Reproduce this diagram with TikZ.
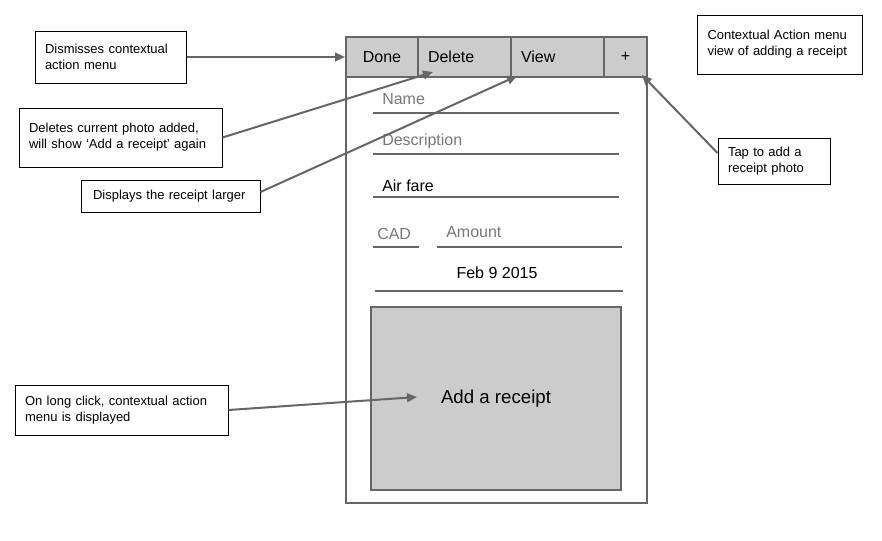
\documentclass[tikz,border=0pt]{standalone}
\usepackage{fontspec}
\setmainfont{Liberation Sans}
\usetikzlibrary{arrows.meta}
\definecolor{frameg}{HTML}{666666}
\definecolor{fillg}{HTML}{CCCCCC}
\definecolor{hintg}{HTML}{777777}
\tikzset{
  callout/.style={draw=black, line width=0.75pt, fill=white, align=left,
    font=\fontsize{9.75}{12}\selectfont, inner xsep=7.5pt, inner ysep=0pt},
  cell/.style={draw=frameg, line width=1.5pt, fill=fillg, minimum height=30pt,
    inner sep=0pt, font=\fontsize{12}{14}\selectfont},
  fieldline/.style={draw=frameg, line width=1.5pt},
  hint/.style={text=hintg, inner sep=0pt, anchor=base west, font=\fontsize{12}{14}\selectfont},
  entry/.style={text=black, inner sep=0pt, anchor=base west, font=\fontsize{12}{14}\selectfont},
  arr/.style={draw=frameg, line width=1.5pt, -{Triangle[length=7.5pt,width=6.5pt]}}
}
\begin{document}
\begin{tikzpicture}[x=0.75pt,y=-0.75pt]
\useasboundingbox (0,0) rectangle (882,540);
% phone frame
\node[draw=frameg, line width=1.5pt, minimum width=225.75pt, minimum height=349.5pt, inner sep=0pt] (phone) at (496.5,270) {};
% top bar
\node[cell, minimum width=54pt] (done) at (382,57) {Done};
\node[cell, minimum width=69.75pt, text width=54.75pt, align=left, inner xsep=7.5pt] (delete) at (464.5,57) {Delete};
\node[cell, minimum width=69.75pt, text width=54.75pt, align=left, inner xsep=7.5pt] (view) at (557.5,57) {View};
\node[cell, minimum width=32.25pt] (plus) at (625.5,57) {+};
% fields
\node[hint] (name) at (382,104) {Name};
\draw[fieldline] (373,113) -- (619,113);
\node[hint] (desc) at (382,145) {Description};
\draw[fieldline] (373,154) -- (619,154);
\node[entry] (fare) at (382,191) {Air fare};
\draw[fieldline] (373,197) -- (619,197);
\node[hint] (cad) at (377,239) {CAD};
\draw[fieldline] (373,247) -- (419,247);
\node[hint] (amount) at (446,237) {Amount};
\draw[fieldline] (437,247) -- (622,247);
\node[entry, anchor=base] (date) at (497,278) {Feb 9 2015};
\draw[fieldline] (375,291) -- (623,291);
% receipt
\node[draw=frameg, line width=1.5pt, fill=fillg, minimum width=187.5pt, minimum height=137.25pt, inner sep=0pt, font=\fontsize{14}{16}\selectfont] (receipt) at (496,398.5) {Add a receipt};
% callouts
\node[callout, minimum width=113.25pt, minimum height=39pt, text width=98.25pt] (dis) at (110.5,57) {Dismisses contextual\\action menu};
\node[callout, minimum width=152.25pt, minimum height=44.25pt, text width=137.25pt] (del) at (120.5,137.5) {Deletes current photo added,\\will show `Add a receipt' again};
\node[callout, minimum width=131.25pt, minimum height=24pt, text width=116.25pt, inner xsep=9pt] (disp) at (170.5,196) {Displays the receipt larger};
\node[callout, minimum width=123.75pt, minimum height=44.25pt, text width=108.75pt] (ctx) at (780,44.5) {Contextual Action menu\\view of adding a receipt};
\node[callout, minimum width=84pt, minimum height=34.5pt, text width=69pt] (tap) at (774,161) {Tap to add a\\receipt photo};
\node[callout, minimum width=159.75pt, minimum height=37.5pt, text width=144.75pt] (long) at (121.5,410) {On long click, contextual action\\menu is displayed};
% targets
\coordinate (delT) at (433,72);
\coordinate (viewT) at (517,76);
\coordinate (plusT) at (642,75);
\coordinate (recT) at (417,397);
% connectors
\draw[arr] (dis.east) -- (done.west);
\draw[arr] (del.east) -- (delT);
\draw[arr] ([yshift=3pt]disp.east) -- (viewT);
\draw[arr] ([yshift=6pt]tap.west) -- (plusT);
\draw[arr] (long.east) -- (recT);
\end{tikzpicture}
\end{document}
